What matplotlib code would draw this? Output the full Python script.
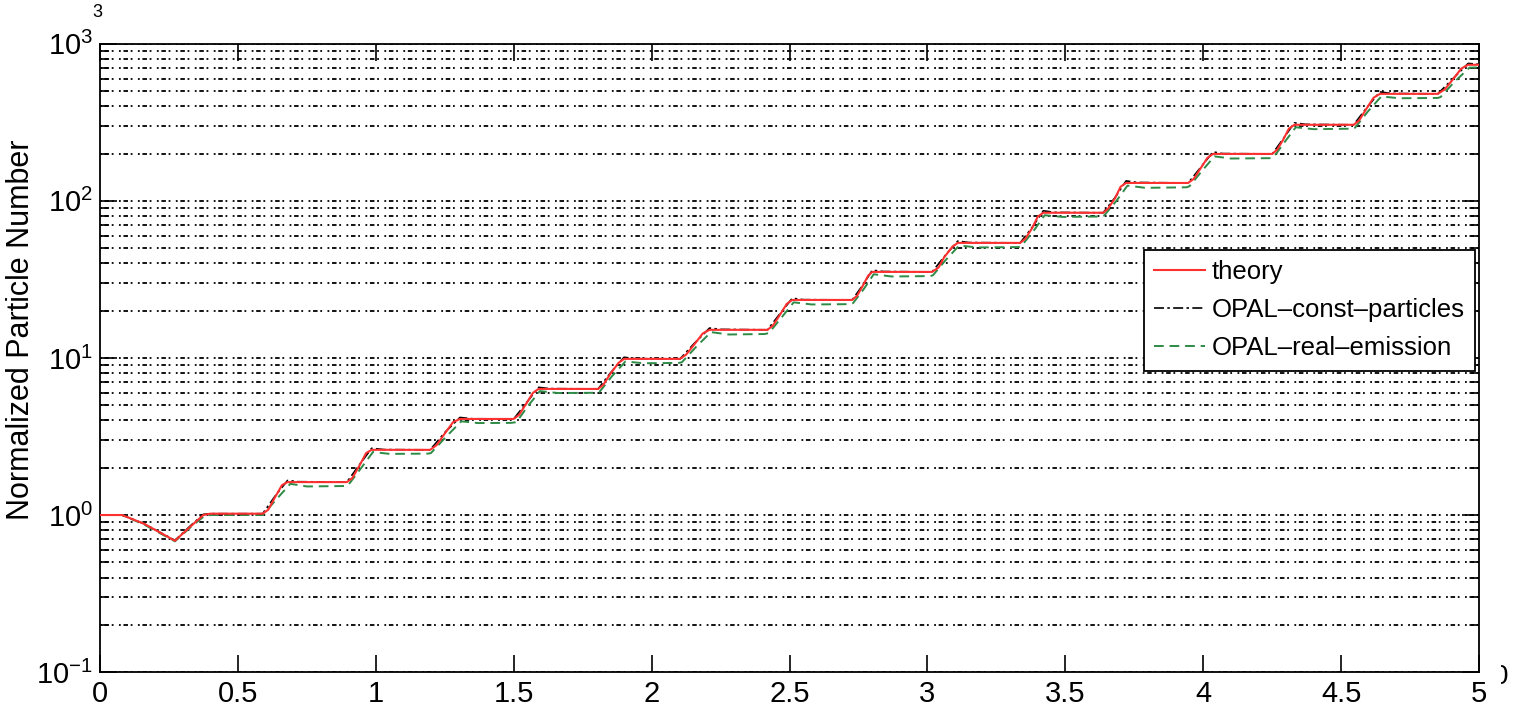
import matplotlib
matplotlib.use("Agg")
import matplotlib.pyplot as plt
from matplotlib.ticker import LogLocator, NullFormatter
from matplotlib.transforms import Bbox

plt.rcParams["font.family"] = ["Liberation Sans", "DejaVu Sans"]
plt.rcParams["mathtext.default"] = "regular"

# theory curve: dip at start, then smooth steps
theory_x = [0.0, 0.08, 0.16, 0.272, 0.33, 0.375, 0.40,
            0.59, 0.61, 0.635, 0.66, 0.68,
            0.895, 0.915, 0.94, 0.965, 0.985,
            1.197, 1.22, 1.25, 1.28, 1.305,
            1.50, 1.52, 1.545, 1.57, 1.59,
            1.806, 1.825, 1.85, 1.88, 1.90,
            2.103, 2.125, 2.155, 2.185, 2.21,
            2.42, 2.44, 2.465, 2.49, 2.51,
            2.727, 2.745, 2.765, 2.785, 2.80,
            3.017, 3.04, 3.06, 3.09, 3.11,
            3.336, 3.355, 3.38, 3.40, 3.42,
            3.637, 3.655, 3.68, 3.70, 3.72,
            3.945, 3.965, 3.99, 4.015, 4.035,
            4.25, 4.268, 4.29, 4.31, 4.33,
            4.545, 4.565, 4.59, 4.617, 4.64,
            4.85, 4.875, 4.905, 4.935, 4.96, 5.0]
theory_y = [1.0, 1.0, 0.88, 0.686, 0.85, 1.0, 1.02,
            1.02, 1.08, 1.30, 1.55, 1.62,
            1.62, 1.72, 2.05, 2.48, 2.6,
            2.6, 2.78, 3.3, 3.9, 4.09,
            4.09, 4.35, 5.1, 6.0, 6.35,
            6.35, 6.75, 7.9, 9.3, 9.86,
            9.86, 10.5, 12.2, 14.3, 15.1,
            15.1, 16.1, 18.8, 22.1, 23.4,
            23.4, 24.9, 28.7, 33.4, 35.3,
            35.3, 37.6, 43.6, 51.0, 54.0,
            54.0, 57.5, 67.3, 79.5, 84.0,
            84.0, 89.5, 104.0, 123.0, 130.0,
            130.0, 138.0, 161.0, 188.0, 199.0,
            199.0, 212.0, 246.0, 288.0, 305.0,
            305.0, 325.0, 383.0, 453.0, 480.0,
            480.0, 512.0, 594.0, 695.0, 735.0, 735.0]

# OPAL constant particles: follows theory, small overshoot at each step
const_x = [0.0, 0.08, 0.16, 0.272, 0.33, 0.375, 0.40,
           0.59, 0.635, 0.68, 0.72,
           0.895, 0.94, 0.985, 1.03,
           1.197, 1.25, 1.305, 1.35,
           1.50, 1.545, 1.59, 1.63,
           1.806, 1.85, 1.90, 1.94,
           2.103, 2.155, 2.21, 2.25,
           2.42, 2.465, 2.51, 2.55,
           2.727, 2.765, 2.80, 2.84,
           3.017, 3.06, 3.11, 3.15,
           3.336, 3.38, 3.42, 3.46,
           3.637, 3.68, 3.72, 3.76,
           3.945, 3.99, 4.035, 4.07,
           4.25, 4.29, 4.33, 4.37,
           4.545, 4.59, 4.64, 4.68,
           4.85, 4.905, 4.96, 5.0]
const_y = [1.0, 1.0, 0.88, 0.69, 0.86, 1.01, 1.02,
           1.02, 1.32, 1.66, 1.63,
           1.62, 2.08, 2.66, 2.61,
           2.6, 3.35, 4.18, 4.1,
           4.09, 5.15, 6.5, 6.38,
           6.35, 8.0, 10.1, 9.9,
           9.86, 12.4, 15.5, 15.2,
           15.1, 19.1, 24.0, 23.5,
           23.4, 29.0, 36.2, 35.5,
           35.3, 44.0, 55.5, 54.3,
           54.0, 68.0, 86.5, 84.5,
           84.0, 105.0, 134.0, 131.0,
           130.0, 163.0, 205.0, 200.0,
           199.0, 249.0, 314.0, 307.0,
           305.0, 387.0, 494.0, 483.0,
           480.0, 600.0, 750.0, 740.0]

# OPAL real emission: slightly lower on every plateau
real_x = [0.0, 0.08, 0.16, 0.272, 0.33, 0.38, 0.40,
          0.59, 0.64, 0.69, 0.75, 0.89,
          0.90, 0.945, 0.99, 1.05, 1.19,
          1.20, 1.255, 1.31, 1.37, 1.49,
          1.51, 1.55, 1.595, 1.66, 1.80,
          1.81, 1.855, 1.905, 1.97, 2.10,
          2.11, 2.16, 2.215, 2.28, 2.41,
          2.425, 2.47, 2.515, 2.58, 2.72,
          2.73, 2.77, 2.805, 2.87, 3.01,
          3.02, 3.065, 3.115, 3.18, 3.33,
          3.34, 3.385, 3.425, 3.49, 3.63,
          3.64, 3.685, 3.725, 3.79, 3.94,
          3.95, 3.995, 4.04, 4.10, 4.245,
          4.255, 4.295, 4.335, 4.40, 4.54,
          4.55, 4.595, 4.645, 4.71, 4.85,
          4.86, 4.91, 4.965, 5.0]
real_y = [1.0, 1.0, 0.87, 0.68, 0.84, 0.99, 1.0,
          1.0, 1.26, 1.58, 1.52, 1.53,
          1.55, 1.97, 2.52, 2.45, 2.46,
          2.48, 3.15, 3.95, 3.85, 3.86,
          3.9, 4.9, 6.15, 5.98, 6.0,
          6.05, 7.6, 9.5, 9.25, 9.3,
          9.4, 11.7, 14.6, 14.1, 14.2,
          14.4, 18.0, 22.6, 21.9, 22.0,
          22.3, 27.6, 34.1, 33.0, 33.2,
          33.6, 41.8, 52.0, 50.5, 50.8,
          51.5, 64.5, 81.0, 79.0, 79.5,
          80.5, 100.0, 125.0, 121.0, 122.0,
          124.0, 155.0, 192.0, 186.0, 187.0,
          190.0, 237.0, 294.0, 286.0, 288.0,
          292.0, 368.0, 462.0, 450.0, 452.0,
          458.0, 572.0, 705.0, 708.0]

fig = plt.figure(figsize=(15.14, 7.06), dpi=100)
ax = fig.add_axes([0.066, 0.048, 0.911, 0.890])

ax.plot(theory_x, theory_y, color="#ff3030", lw=1.5, label="theory", zorder=4)
ax.plot(const_x, const_y, color="black", lw=1.2, linestyle=(0, (6, 2, 1.5, 2)),
        label="OPAL\u2013const\u2013particles", zorder=3)
ax.plot(real_x, real_y, color="#2e8b46", lw=1.4, linestyle=(0, (5, 3)),
        label="OPAL\u2013real\u2013emission", zorder=2)

ax.set_yscale("log")
ax.set_xlim(0, 5)
ax.set_ylim(0.1, 1000)
ax.set_xticks([0, 0.5, 1, 1.5, 2, 2.5, 3, 3.5, 4, 4.5, 5])
ax.set_xticklabels(["0", "0.5", "1", "1.5", "2", "2.5", "3", "3.5", "4", "4.5", "5"])
ax.yaxis.set_major_locator(LogLocator(base=10, numticks=10))
ax.yaxis.set_minor_locator(LogLocator(base=10, subs=range(2, 10), numticks=50))
ax.yaxis.set_minor_formatter(NullFormatter())

ax.tick_params(which="both", direction="in", top=True, right=True, labelsize=21,
               width=1.2, colors="black")
ax.tick_params(which="major", length=12)
ax.tick_params(which="minor", length=6)
ax.tick_params(axis="x", pad=6)
ax.tick_params(axis="y", pad=5)
for s in ax.spines.values():
    s.set_linewidth(1.3)

ax.grid(True, axis="y", which="both", color="black", lw=1.3,
        linestyle=(0, (1, 1.5, 2.5, 1.5, 1, 3)))
ax.grid(False, axis="x")

ax.set_ylabel("Normalized Particle Number", fontsize=22)
ax.yaxis.set_label_coords(-0.046, 0.545)

leg = ax.legend(loc="upper right", bbox_to_anchor=(0.997, 0.672), fontsize=18.5,
                frameon=True, fancybox=False, framealpha=1, edgecolor="black",
                borderpad=0.4, handlelength=2.0, handletextpad=0.25,
                labelspacing=0.55, borderaxespad=0)
leg.get_frame().set_linewidth(1.3)

fig.text(0.064, 0.982, "3", fontsize=13, ha="center", va="center")
# clipped leftover of an exponent label at the lower right edge
edge = fig.text(1493 / 1514, 1 - 677 / 706, "0", fontsize=20, ha="left", va="center")
edge.set_clip_box(Bbox.from_extents(1501, 0, 1514, 706))
edge.set_clip_on(True)

fig.savefig("out.png", dpi=100)
